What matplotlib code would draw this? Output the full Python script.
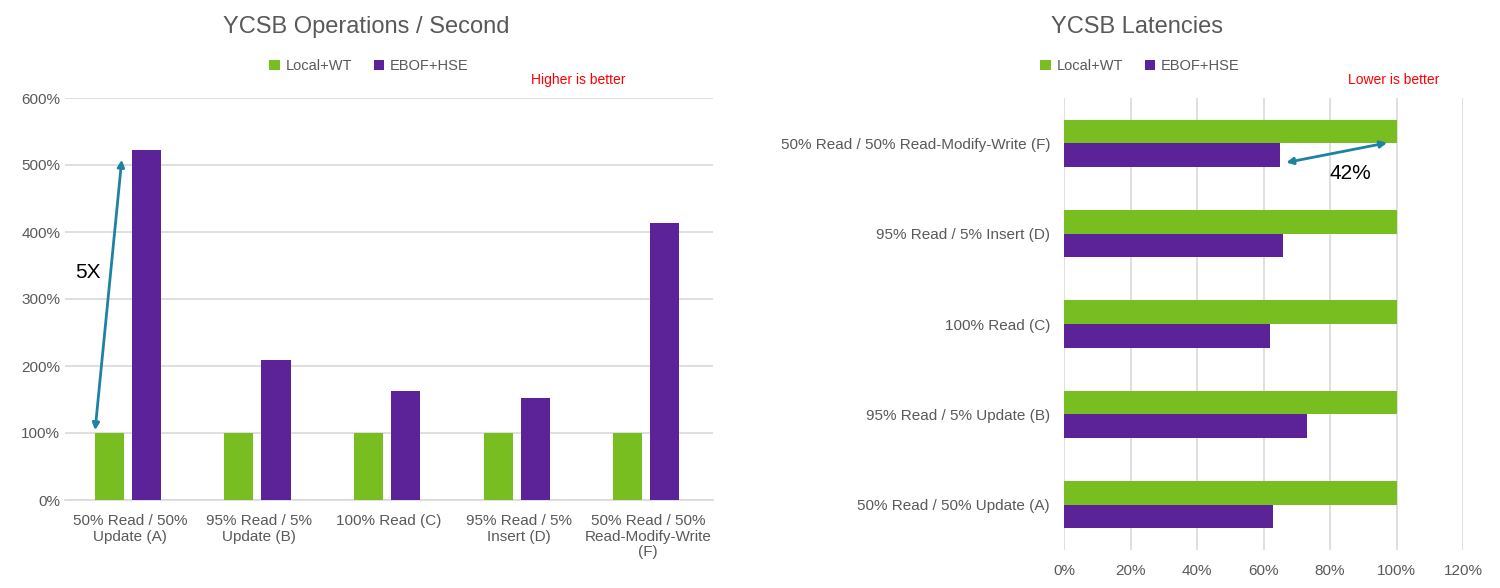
import matplotlib.pyplot as plt
import numpy as np
from matplotlib.ticker import PercentFormatter

plt.rcParams['font.family'] = ['Liberation Sans', 'DejaVu Sans']

# data
ops_labels = ["50% Read / 50%\nUpdate (A)", "95% Read / 5%\nUpdate (B)", "100% Read (C)",
              "95% Read / 5%\nInsert (D)", "50% Read / 50%\nRead-Modify-Write\n(F)"]
ops_local = [1.00, 1.00, 1.00, 1.00, 1.00]
ops_ebof = [5.22, 2.09, 1.62, 1.52, 4.13]

lat_labels = ["50% Read / 50% Update (A)", "95% Read / 5% Update (B)", "100% Read (C)",
              "95% Read / 5% Insert (D)", "50% Read / 50% Read-Modify-Write (F)"]
lat_local = [1.00, 1.00, 1.00, 1.00, 1.00]
lat_ebof = [0.63, 0.73, 0.62, 0.66, 0.65]

series = ["Local+WT", "EBOF+HSE"]
GREEN = "#78BE20"
PURPLE = "#5C2399"
GRID = "#d9d9d9"
TXT = "#595959"
ARROW = "#1F82A3"

W, H = 1500, 588
fig = plt.figure(figsize=(15, 5.88), dpi=100)

# ---- left: operations / second
ax1 = fig.add_axes([65 / W, 1 - 500 / H, 648 / W, 402 / H])
x = np.arange(len(ops_labels))
w = 0.224
b1 = ax1.bar(x - 0.158, ops_local, w, color=GREEN, label=series[0], zorder=3)
b2 = ax1.bar(x + 0.128, ops_ebof, w, color=PURPLE, label=series[1], zorder=3)
ax1.set_xlim(-0.5, 4.5)
ax1.set_ylim(0, 6)
ax1.set_yticks(np.arange(0, 7, 1))
ax1.yaxis.set_major_formatter(PercentFormatter(1.0, decimals=0))
ax1.set_xticks(x)
ax1.set_xticklabels(ops_labels, linespacing=1.15)
ax1.tick_params(axis='both', length=0, labelsize=11, labelcolor=TXT)
ax1.tick_params(axis='x', pad=10)
ax1.grid(axis='y', color=GRID, lw=1.2, zorder=0)
for s in ['top', 'right', 'left']:
    ax1.spines[s].set_visible(False)
ax1.spines['bottom'].set_color(GRID)
ax1.spines['bottom'].set_linewidth(1.2)
fig.text(366 / W, 1 - 27 / H, "YCSB Operations / Second", fontsize=17, color=TXT,
         ha='center', va='center')
fig.legend(handles=[b1, b2], loc='center', bbox_to_anchor=(369 / W, 1 - 66 / H), ncol=2,
           frameon=False, fontsize=10.5, labelcolor=TXT, handlelength=0.7, handleheight=0.7,
           handletextpad=0.4, columnspacing=1.5)
fig.text(578 / W, 1 - 80 / H, "Higher is better", color="red", fontsize=10,
         ha='center', va='center')
ax1.annotate("", xy=(-0.06, 5.12), xytext=(-0.27, 1.0),
             arrowprops=dict(arrowstyle='<|-|>', color=ARROW, lw=2, mutation_scale=10))
ax1.text(-0.32, 3.4, "5X", fontsize=15, ha='center', va='center', color='black')

# ---- right: latencies
ax2 = fig.add_axes([1064 / W, 1 - 550 / H, 399 / W, 452 / H])
y = np.arange(len(lat_labels))
h = 0.26
c1 = ax2.barh(y + h / 2, lat_local, h, color=GREEN, label=series[0], zorder=3)
c2 = ax2.barh(y - h / 2, lat_ebof, h, color=PURPLE, label=series[1], zorder=3)
ax2.set_ylim(-0.5, 4.5)
ax2.set_xlim(0, 1.2)
ax2.set_xticks(np.arange(0, 1.21, 0.2))
ax2.xaxis.set_major_formatter(PercentFormatter(1.0, decimals=0))
ax2.set_yticks(y)
ax2.set_yticklabels(lat_labels)
ax2.tick_params(axis='both', length=0, labelsize=11, labelcolor=TXT)
ax2.tick_params(axis='y', pad=10)
ax2.tick_params(axis='x', pad=10)
ax2.grid(axis='x', color=GRID, lw=1.2, zorder=0)
for s in ['top', 'right', 'left', 'bottom']:
    ax2.spines[s].set_visible(False)
fig.text(1137 / W, 1 - 27 / H, "YCSB Latencies", fontsize=17, color=TXT,
         ha='center', va='center')
fig.legend(handles=[c1, c2], loc='center', bbox_to_anchor=(1140 / W, 1 - 66 / H), ncol=2,
           frameon=False, fontsize=10.5, labelcolor=TXT, handlelength=0.7, handleheight=0.7,
           handletextpad=0.4, columnspacing=1.5)
fig.text(1394 / W, 1 - 80 / H, "Lower is better", color="red", fontsize=10,
         ha='center', va='center')
ax2.annotate("", xy=(0.98, 4.01), xytext=(0.66, 3.78),
             arrowprops=dict(arrowstyle='<|-|>', color=ARROW, lw=2, mutation_scale=10))
ax2.text(0.86, 3.67, "42%", fontsize=15, ha='center', va='center', color='black')

fig.savefig("out.png", dpi=100)
